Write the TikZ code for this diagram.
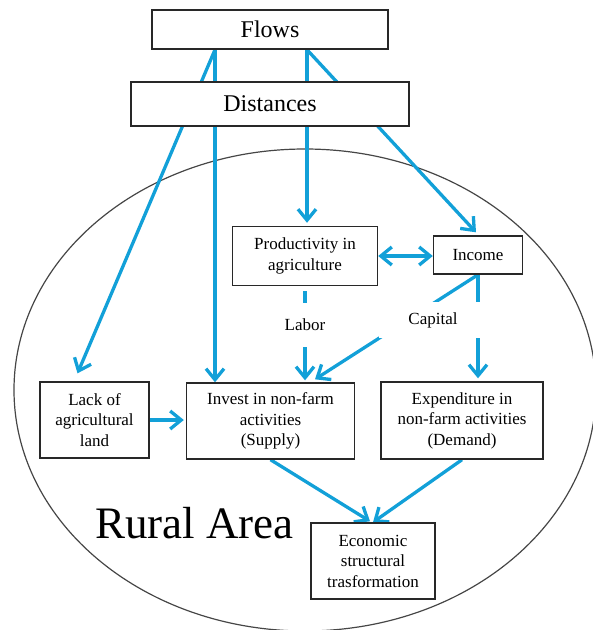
\documentclass[tikz,border=0pt]{standalone}
\usepackage{fontspec}
\setmainfont{Liberation Serif}
\usetikzlibrary{arrows.meta,calc,backgrounds}
\definecolor{flowblue}{RGB}{18,160,216}
\definecolor{boxline}{RGB}{40,40,40}
\definecolor{ellgray}{RGB}{70,70,70}
\begin{document}
\begin{tikzpicture}[x=1pt,y=-1pt,
  >={Straight Barb[length=11pt,width=18pt]},
  box/.style={draw=boxline, line width=1.4pt, fill=white, align=center, inner sep=2pt, font=\fontsize{17}{20.5}\selectfont},
  bigbox/.style={box, font=\fontsize{24}{28}\selectfont},
  flow/.style={draw=flowblue, line width=3.3pt},
  arr/.style={flow, ->},
  darr/.style={flow, <->},
  lbl/.style={fill=white, inner sep=0pt, font=\fontsize{17}{20.5}\selectfont}]
\useasboundingbox (0,0) rectangle (593,630);
% nodes
\node[bigbox, minimum width=236pt, minimum height=39pt] (flows) at (270,29.5) {Flows};
\node[bigbox, minimum width=278pt, minimum height=44pt] (dist) at (270,104) {Distances};
\node[box, minimum width=145pt, minimum height=59pt] (prod) at (305,256) {Productivity in\\agriculture};
\node[box, minimum width=89pt, minimum height=38pt] (income) at (478,255) {Income};
\node[box, minimum width=109pt, minimum height=76pt] (lack) at (94.5,420) {Lack of\\agricultural\\land};
\node[box, minimum width=168pt, minimum height=76pt] (invest) at (270.5,421) {Invest in non-farm\\activities\\(Supply)};
\node[box, minimum width=162pt, minimum height=77pt] (expend) at (462,420.5) {Expenditure in\\non-farm activities\\(Demand)};
\node[box, minimum width=124pt, minimum height=76pt] (econ) at (373,561) {Economic\\structural\\trasformation};
\node[lbl, minimum height=44pt] (labor) at (305,325) {Labor};
\node[lbl, minimum width=108pt, minimum height=36pt] (capital) at (433,320) {Capital};
\node[anchor=base west, inner sep=0pt, font=\fontsize{45}{50}\selectfont] (rural) at (95,538) {Rural Area};
% connectors behind nodes
\begin{pgfonlayer}{background}
\draw[draw=ellgray, line width=1.2pt] (305,390) ellipse [x radius=291pt, y radius=241pt];
\coordinate (fA) at ($(flows.south)+(-55,0)$);
\coordinate (fB) at ($(flows.south)+(37,0)$);
\draw[arr] (fA) -- ($(lack.north)+(-17,-8)$);
\draw[arr] (fA) -- (fA |- invest.north);
\draw[arr, shorten >=3pt] (fB) -- (fB |- prod.north);
\draw[arr] (fB) -- ($(income.north)+(-2,-3)$);
\draw[darr] (prod.east) -- (prod.east -| income.west);
\draw[arr, shorten <=5pt, shorten >=2pt] (prod.south) -- (prod.south |- invest.north);
\draw[arr] (income.south) -- ($(invest.north)+(44.5,-3)$);
\draw[arr, shorten >=3pt] (income.south) -- (income.south |- expend.north);
\draw[arr, shorten >=2pt] (lack.east) -- (lack.east -| invest.west);
\draw[arr] (invest.south) -- ($(econ.north)+(-3,-1)$);
\draw[arr] (expend.south) -- (econ.north);
\end{pgfonlayer}
\end{tikzpicture}
\end{document}
